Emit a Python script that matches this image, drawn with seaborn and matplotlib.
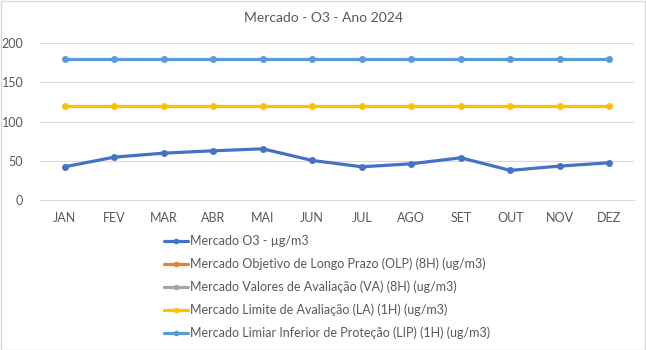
import matplotlib
matplotlib.use("Agg")
import matplotlib.pyplot as plt
from matplotlib.lines import Line2D
from matplotlib.patches import Rectangle
import numpy as np
import pandas as pd
import seaborn as sns

months = ["JAN", "FEV", "MAR", "ABR", "MAI", "JUN", "JUL", "AGO", "SET", "OUT", "NOV", "DEZ"]

o3 = [42.4, 54.7, 59.8, 62.8, 65.3, 50.5, 42.4, 46.2, 53.9, 37.8, 43.3, 47.5]
olp = [np.nan] * 12
va = [np.nan] * 12
la = [120] * 12
lip = [180] * 12

series_names = [
    "Mercado O3 - µg/m3",
    "Mercado Objetivo de Longo Prazo (OLP) (8H) (ug/m3)",
    "Mercado Valores de Avaliação (VA) (8H) (ug/m3)",
    "Mercado Limite de Avaliação (LA) (1H) (ug/m3)",
    "Mercado Limiar Inferior de Proteção (LIP) (1H) (ug/m3)",
]
series_values = [o3, olp, va, la, lip]
colors = ["#4472C4", "#ED7D31", "#A5A5A5", "#FFC000", "#5B9BD5"]

rows = []
for name, vals in zip(series_names, series_values):
    for i, v in enumerate(vals):
        rows.append({"pos": i, "value": v, "serie": name})
df = pd.DataFrame(rows)

sns.set_theme(style="white")
plt.rcParams["font.family"] = ["Lato", "DejaVu Sans"]

fig = plt.figure(figsize=(6.46, 3.5), dpi=100)
ax = fig.add_axes([40 / 646, 1 - 200 / 350, 594 / 646, 156.7 / 350])

palette = dict(zip(series_names, colors))
sns.lineplot(data=df.dropna(), x="pos", y="value", hue="serie", hue_order=series_names,
             palette=palette, marker="o", markersize=5, markeredgewidth=0,
             linewidth=2.3, sort=False, legend=False, ax=ax, zorder=3)

ax.set_xlim(-0.5, 11.5)
ax.set_ylim(0, 200)
ax.set_yticks([0, 50, 100, 150, 200])
ax.set_xticks(range(12))
ax.set_xticklabels(months)
ax.set_xlabel("")
ax.set_ylabel("")
ax.grid(axis="y", color="#D9D9D9", linewidth=0.8)
ax.set_axisbelow(True)
for s in ["top", "right", "left"]:
    ax.spines[s].set_visible(False)
ax.spines["bottom"].set_color("#D9D9D9")
ax.spines["bottom"].set_linewidth(0.8)
ax.tick_params(axis="both", length=0, labelsize=9, colors="#595959")
ax.tick_params(axis="y", pad=12)
ax.tick_params(axis="x", pad=9)

fig.text(0.5, 1 - 18 / 350, "Mercado - O3 - Ano 2024", ha="center", va="center",
         fontsize=10, color="#595959")

handles = [Line2D([], [], color=c, linewidth=2.3, marker="o", markersize=4,
                  markeredgewidth=0) for c in colors]
fig.legend(handles, series_names, loc="upper left",
           bbox_to_anchor=(164 / 646, 1 - 235 / 350), frameon=False,
           fontsize=9, labelcolor="#595959", handlelength=1.9, handletextpad=0.15,
           labelspacing=0.84, borderaxespad=0, borderpad=0)

fig.patches.append(Rectangle((0.5 / 646, 0.5 / 350), 1 - 1.5 / 646, 1 - 1.5 / 350,
                             transform=fig.transFigure, fill=False,
                             edgecolor="#D9D9D9", linewidth=1))

fig.savefig("out.png", dpi=100, facecolor="white")
